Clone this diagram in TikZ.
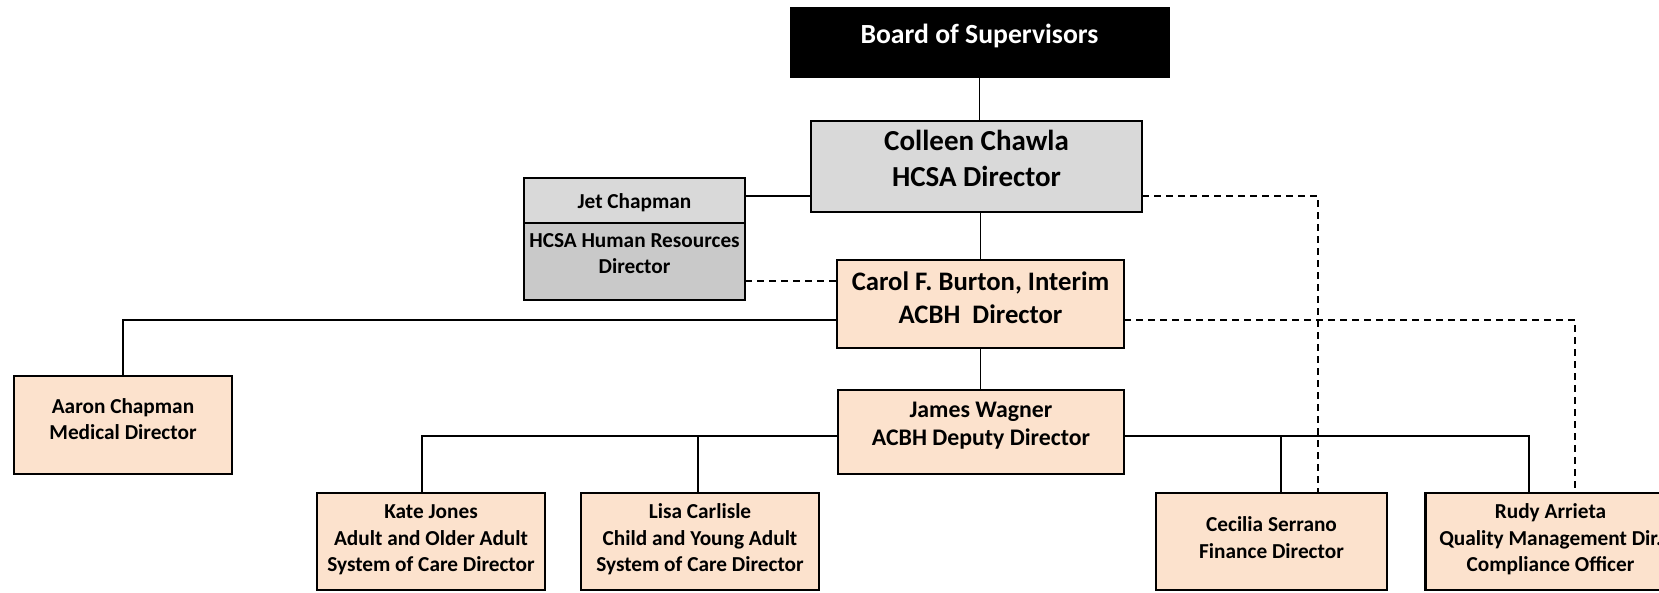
\documentclass[tikz,border=0pt]{standalone}
\usepackage{fontspec}
\setmainfont{Carlito}
\definecolor{peach}{HTML}{FCE2CD}
\definecolor{lgray}{HTML}{D9D9D9}
\definecolor{mgray}{HTML}{C9C9C9}
\newcommand{\tlines}[1]{\begin{tabular}[b]{@{}c@{}}#1\end{tabular}}
\begin{document}
\begin{tikzpicture}[x=1pt,y=-1pt,
  box/.style={draw=black,line width=2.7pt,fill=peach,inner sep=0pt,outer sep=0pt},
  small/.style={font=\bfseries\fontsize{21.3}{26.4}\selectfont},
  conn/.style={line width=1.7pt},
  dconn/.style={line width=1.8pt,dash pattern=on 7pt off 5pt}]
\useasboundingbox (0,0) rectangle (1659,592);
\clip (0,0) rectangle (1659,592);

% boxes
\node[fill=black,draw=black,minimum width=379pt,minimum height=70pt,inner sep=0pt,
  text=white,font=\bfseries\fontsize{27.7}{33.8}\selectfont,text height=20pt,text depth=18pt]
  (board) at (979.5,42) {Board of Supervisors};

\node[box,fill=lgray,minimum width=331pt,minimum height=91pt,
  font=\bfseries\fontsize{29}{36}\selectfont,text depth=22.2pt]
  (colleen) at (976.5,166.5) {\tlines{Colleen Chawla\\HCSA Director}};

\node[fill=lgray,minimum width=221pt,minimum height=45pt,inner sep=0pt,outer sep=0pt,small,
  text height=15pt,text depth=0pt] (jettop) at (634.5,200.5) {Jet Chapman};
\node[fill=mgray,minimum width=221pt,minimum height=77pt,inner sep=0pt,outer sep=0pt,small,
  text depth=20.5pt] (jetbot) at (634.5,261.5) {\tlines{HCSA Human Resources\\Director}};
\draw[line width=1.5pt] (jettop.south west) -- (jettop.south east);
\draw[line width=2.7pt] (jettop.north west) rectangle (jetbot.south east);

\node[box,minimum width=287pt,minimum height=88pt,
  font=\bfseries\fontsize{26.7}{33}\selectfont,text depth=17.5pt]
  (carol) at (980.5,304) {\tlines{Carol F. Burton, Interim\\ACBH\ \ Director}};

\node[box,minimum width=286pt,minimum height=84pt,
  font=\bfseries\fontsize{23.8}{28}\selectfont,text depth=20.8pt]
  (james) at (981,432) {\tlines{James Wagner\\ACBH Deputy Director}};

\node[box,small,minimum width=218pt,minimum height=98pt,text depth=15.9pt]
  (aaron) at (123,425) {\tlines{Aaron Chapman\\Medical Director}};

\node[box,small,minimum width=228pt,minimum height=97pt,text depth=11.3pt]
  (kate) at (431,541.5) {\tlines{Kate Jones\\Adult and Older Adult\\System of Care Director}};
\node[box,small,minimum width=238pt,minimum height=97pt,text depth=11.3pt]
  (lisa) at (700,541.5) {\tlines{Lisa Carlisle\\Child and Young Adult\\System of Care Director}};
\node[box,small,minimum width=231pt,minimum height=97pt,text depth=11.3pt]
  (cecilia) at (1271.5,541.5) {\tlines{Cecilia Serrano\\Finance Director}};
\node[box,small,minimum width=250pt,minimum height=97pt,text depth=10.9pt]
  (rudy) at (1550.5,541.5) {\tlines{Rudy Arrieta\\Quality Management Dir.\\Compliance Officer}};

% connectors
\draw[conn] (board.south) -- (board.south |- colleen.north);

\coordinate (jc) at ([yshift=4.5pt]jettop.east);
\draw[conn] (jc) -- (jc -| colleen.west);
\coordinate (jd) at ([yshift=-19.5pt]jetbot.east);
\draw[dconn] (jd) -- (jd -| carol.west);

\draw[conn] (carol.north |- colleen.south) -- (carol.north);
\draw[conn] (carol.south) -- (carol.south |- james.north);

\coordinate (cl) at ([yshift=-16pt]carol.west);
\draw[conn] (cl) -| (aaron.north);
\coordinate (cr) at ([yshift=-16pt]carol.east);
\coordinate (rdd) at ([xshift=24.5pt]rudy.north);
\draw[dconn] (cr) -| (rdd);
\coordinate (ce) at ([yshift=-29.5pt]colleen.east);
\coordinate (cdd) at ([xshift=46.5pt]cecilia.north);
\draw[dconn] (ce) -| (cdd);

\coordinate (jl) at ([yshift=-4pt]james.west);
\coordinate (jr) at ([yshift=-4pt]james.east);
\coordinate (kd) at ([xshift=-9pt]kate.north);
\coordinate (ld) at ([xshift=-2pt]lisa.north);
\coordinate (cd) at ([xshift=9.5pt]cecilia.north);
\coordinate (rd) at ([xshift=-21.5pt]rudy.north);
\draw[conn] (jl) -| (kd);
\draw[conn] (ld) -- (ld |- jl);
\draw[conn] (jr) -| (rd);
\draw[conn] (cd) -- (cd |- jr);
\end{tikzpicture}
\end{document}
